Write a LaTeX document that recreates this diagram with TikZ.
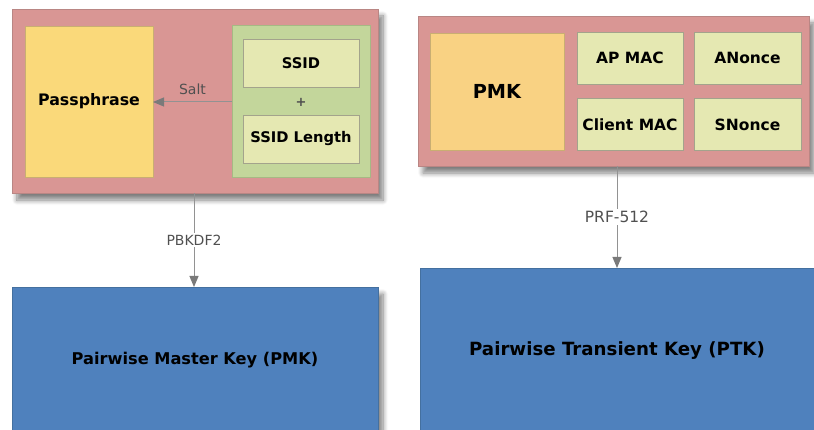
\documentclass[tikz,border=0pt]{standalone}
\usepackage{fontspec}
\setmainfont{DejaVu Sans}
\usetikzlibrary{arrows.meta,shadows.blur,calc}

\definecolor{frameRed}{HTML}{D99694}
\definecolor{frameRedEdge}{HTML}{B98684}
\definecolor{passYellow}{HTML}{FAD97A}
\definecolor{pmkOrange}{HTML}{F9D283}
\definecolor{yellowEdge}{HTML}{C9AE72}
\definecolor{saltGreen}{HTML}{C3D69B}
\definecolor{saltGreenEdge}{HTML}{A6B984}
\definecolor{fieldCream}{HTML}{E5E8B2}
\definecolor{fieldEdge}{HTML}{A3A38C}
\definecolor{keyBlue}{HTML}{4F81BD}
\definecolor{keyBlueEdge}{HTML}{44709F}
\definecolor{wireGray}{HTML}{929292}
\definecolor{tipGray}{HTML}{7A7A7A}
\definecolor{labelGray}{HTML}{505050}

\tikzset{
  base/.style={rectangle, inner sep=0pt, outer sep=0pt, line width=0.8pt, align=center},
  frame/.style={base, fill=frameRed, draw=frameRedEdge,
    blur shadow={shadow xshift=5pt, shadow yshift=-7pt, shadow opacity=50, shadow blur radius=5pt, shadow blur steps=8}},
  keybox/.style={base, fill=keyBlue, draw=keyBlueEdge,
    blur shadow={shadow xshift=5pt, shadow yshift=-7pt, shadow opacity=50, shadow blur radius=5pt, shadow blur steps=8}},
  secret/.style={base, fill=passYellow, draw=yellowEdge},
  saltgroup/.style={base, fill=saltGreen, draw=saltGreenEdge},
  field/.style={base, fill=fieldCream, draw=fieldEdge},
  wire/.style={draw=wireGray, line width=1pt, -{Triangle[width=9pt,length=11pt,color=tipGray]}},
  wirelabel/.style={fill=white, text=labelGray, inner sep=2pt},
}

\begin{document}
\begin{tikzpicture}[x=1pt,y=-1pt]
\useasboundingbox (0,0) rectangle (814,430);
\clip (0,0) rectangle (814,430);

% ---- PMK derivation (left) ----
\node[frame, minimum width=366pt, minimum height=184pt] (lframe) at (195,101) {};
\node[secret, minimum width=128pt, minimum height=151pt, font=\bfseries\fontsize{15.8}{18}\selectfont] (pass) at (89,101.5) {Passphrase};
\node[saltgroup, minimum width=138pt, minimum height=152pt] (salt) at (301,101) {};
\node[field, minimum width=116pt, minimum height=48pt, font=\bfseries\fontsize{14.7}{17}\selectfont] (ssid) at (301,63) {SSID};
\node[field, minimum width=116pt, minimum height=48pt, font=\bfseries\fontsize{14.7}{17}\selectfont] (ssidlen) at (301,139) {SSID Length};
\node[font=\bfseries\fontsize{13}{15}\selectfont, text=labelGray, inner sep=0pt] (plus) at (301,102) {+};
\draw[wire] (salt.west |- plus) -- (pass.east |- plus)
  node[midway, above=7pt, text=labelGray, font=\fontsize{14}{16}\selectfont, inner sep=0pt] (saltlbl) {Salt};

\node[keybox, minimum width=366pt, minimum height=146pt, font=\bfseries\fontsize{16.2}{19}\selectfont] (pmkout) at (195,360) {Pairwise Master Key (PMK)};
\draw[wire] (lframe.south -| 194,0) -- (pmkout.north -| 194,0)
  node[midway, wirelabel, font=\fontsize{14}{16}\selectfont] (pbkdf) {PBKDF2};

% ---- PTK derivation (right) ----
\node[frame, minimum width=391pt, minimum height=150pt] (rframe) at (613.5,91) {};
\node[base, fill=pmkOrange, draw=yellowEdge, minimum width=134pt, minimum height=117pt, font=\bfseries\fontsize{19.3}{22}\selectfont] (pmk) at (497,91.5) {PMK};
\node[field, minimum width=106pt, minimum height=52pt, font=\bfseries\fontsize{15.5}{18}\selectfont] (apmac) at (630,58) {AP MAC};
\node[field, minimum width=107pt, minimum height=52pt, font=\bfseries\fontsize{15.5}{18}\selectfont] (anonce) at (747.5,58) {ANonce};
\node[field, minimum width=106pt, minimum height=52pt, font=\bfseries\fontsize{15.5}{18}\selectfont] (clmac) at (630,124.5) {Client MAC};
\node[field, minimum width=107pt, minimum height=52pt, font=\bfseries\fontsize{15.5}{18}\selectfont] (snonce) at (747.5,124.5) {SNonce};

\node[keybox, minimum width=394pt, minimum height=166pt, font=\bfseries\fontsize{18.2}{21}\selectfont] (ptk) at (617,351) {Pairwise Transient Key (PTK)};
\draw[wire] (rframe.south -| ptk.north) -- (ptk.north)
  node[midway, wirelabel, font=\fontsize{15.5}{18}\selectfont] (prf) {PRF-512};
\end{tikzpicture}
\end{document}
